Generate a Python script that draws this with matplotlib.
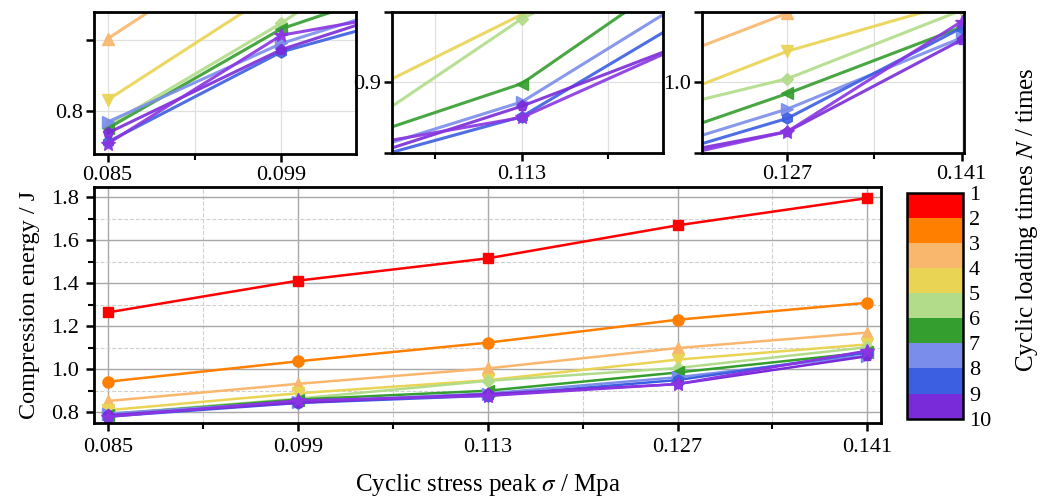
import matplotlib
matplotlib.use('Agg')
import matplotlib.pyplot as plt
import numpy as np
from matplotlib.colors import ListedColormap, BoundaryNorm
from matplotlib.ticker import MultipleLocator, FixedLocator

plt.rcParams['font.family'] = ['Liberation Serif', 'DejaVu Serif']
plt.rcParams['mathtext.fontset'] = 'stix'

# cyclic stress peak (MPa)
stress = [0.085, 0.099, 0.113, 0.127, 0.141]

# compression energy (J) for loading times N = 1..10
n1 = [1.264, 1.412, 1.516, 1.670, 1.797]
n2 = [0.941, 1.036, 1.123, 1.230, 1.309]
n3 = [0.851, 0.931, 1.003, 1.098, 1.170]
n4 = [0.808, 0.887, 0.948, 1.044, 1.115]
n5 = [0.790, 0.862, 0.945, 1.005, 1.102]
n6 = [0.788, 0.858, 0.899, 0.984, 1.078]
n7 = [0.7925, 0.8477, 0.886, 0.962, 1.063]
n8 = [0.7784, 0.8418, 0.8756, 0.9488, 1.077]
n9 = [0.7847, 0.8434, 0.883, 0.930, 1.060]
n10 = [0.7773, 0.8535, 0.875, 0.930, 1.086]
series = [n1, n2, n3, n4, n5, n6, n7, n8, n9, n10]

colors = ['#ff0000', '#ff7f00', '#f9b76d', '#e9d453', '#b2dc8a',
          '#349e2e', '#7b8dea', '#3c5ee0', '#7a2bd9', '#8a35e2']
markers = ['s', 'o', '^', 'v', 'D', '<', '>', 'h', 'p', '*']
msizes = [7, 8, 8, 8, 6, 8, 8, 8, 8, 10]
cbar_colors = colors[:9]
cbar_labels = [str(i) for i in range(1, 11)]

W, H = 1051, 497
fig = plt.figure(figsize=(W / 100, H / 100), dpi=100)


def box(l, t, r, b):
    return [l / W, 1 - b / H, (r - l) / W, (b - t) / H]


def style(ax, size=16):
    for s in ax.spines.values():
        s.set_linewidth(2)
    ax.tick_params(which='major', direction='out', length=6, width=1.8,
                   labelsize=size, top=False, right=False, pad=5)
    ax.tick_params(which='minor', direction='out', length=4, width=1.5,
                   top=False, right=False)


# main axes
ax = fig.add_axes(box(94.3, 186.7, 881, 422.7))
for s, c, m, ms in zip(series, colors, markers, msizes):
    ax.plot(stress, s, color=c, marker=m, markersize=ms, lw=1.8)
ax.set_xlim(0.0840, 0.1420)
ax.set_ylim(0.75, 1.85)
ax.set_xticks(stress)
ax.xaxis.set_minor_locator(FixedLocator([0.092, 0.106, 0.120, 0.134]))
ax.yaxis.set_major_locator(MultipleLocator(0.2))
ax.yaxis.set_minor_locator(MultipleLocator(0.1))
ax.yaxis.set_major_formatter(matplotlib.ticker.FormatStrFormatter('%.1f'))
ax.grid(which='major', color='#a8a8a8', lw=1.0)
ax.grid(which='minor', color='#d0d0d0', lw=0.8, ls='--')
ax.set_axisbelow(True)
style(ax)
ax.set_xlabel(r'Cyclic stress peak $\sigma$ / Mpa', fontsize=18, labelpad=11)
ax.set_ylabel('Compression energy / J', fontsize=17.5, labelpad=8)

# zoomed insets
insets = [
    (box(94, 11.7, 356, 154), (0.0839, 0.1050), (0.77, 0.87),
     [0.085, 0.099], [0.092], [0.80, 0.85], ['0.8', '']),
    (box(391.7, 11.7, 663, 152.7), (0.1025, 0.1244), (0.85, 0.95),
     [0.113], [0.106, 0.120], [0.85, 0.90, 0.95], ['', '0.9', '']),
    (box(701.7, 11.7, 964, 152.7), (0.1201, 0.1412), (0.90, 1.10),
     [0.127, 0.141], [0.134], [0.9, 1.0, 1.1], ['', '1.0', '']),
]
for pos, xl, yl, xt, xmin, yt, ytl in insets:
    a = fig.add_axes(pos)
    for s, c, m, ms in zip(series, colors, markers, msizes):
        a.plot(stress, s, color=c, marker=m, markersize=ms, lw=2.2, alpha=0.9)
    a.set_xlim(*xl)
    a.set_ylim(*yl)
    a.set_xticks(xt)
    a.set_xticklabels(['%.3f' % v for v in xt])
    a.xaxis.set_minor_locator(FixedLocator(xmin))
    a.set_yticks(yt)
    a.set_yticklabels(ytl)
    a.grid(which='both', color='#e0e0e0', lw=0.9)
    a.set_axisbelow(True)
    style(a)
    a.tick_params(axis='y', pad=2)
    a.tick_params(axis='x', pad=3)

# discrete colour bar for loading times
cax = fig.add_axes(box(907.3, 192.7, 963.3, 418.7))
cmap = ListedColormap(cbar_colors)
norm = BoundaryNorm(np.arange(1, 11), cmap.N)
cb = fig.colorbar(matplotlib.cm.ScalarMappable(norm=norm, cmap=cmap),
                  cax=cax, ticks=np.arange(1, 11))
cb.ax.set_yticklabels(cbar_labels)
cb.ax.invert_yaxis()
cb.ax.tick_params(length=0, labelsize=16, pad=4)
cb.outline.set_linewidth(1.8)
fig.text(1027 / W, 1 - 220 / H, r'Cyclic loading times $N$ / times',
         rotation=90, ha='center', va='center', fontsize=18)

fig.savefig('out.png', dpi=100)
